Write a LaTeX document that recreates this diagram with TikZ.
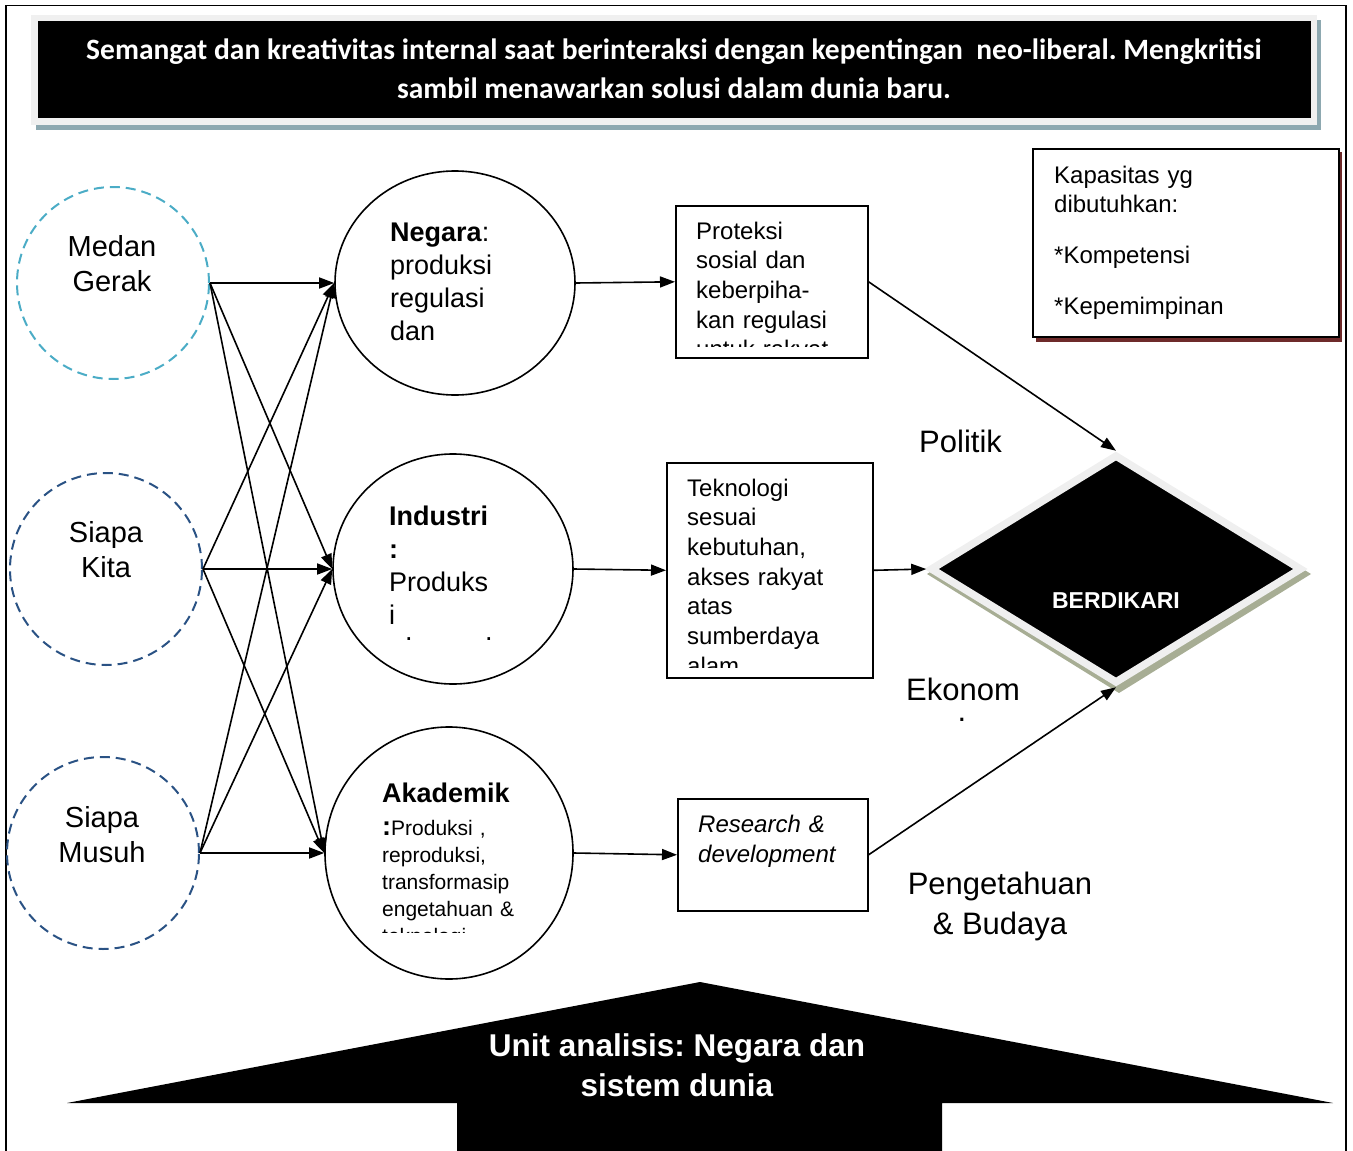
\documentclass[tikz,border=0pt]{standalone}
\usepackage{fontspec}
\setmainfont{Liberation Sans}
\newfontfamily\calibrifont{Carlito}
\usetikzlibrary{arrows.meta,shapes.geometric}
\definecolor{medanblue}{HTML}{4BACC6}
\definecolor{siapablue}{HTML}{2A5284}
\definecolor{bannergray}{HTML}{F0F0F0}
\definecolor{bannershadow}{HTML}{8DA8B0}
\definecolor{kapshadow}{HTML}{6E2A2A}
\definecolor{diagray}{HTML}{EFEFEF}
\definecolor{diashadow}{HTML}{A7AD94}
\newcommand{\fsz}[2]{\fontsize{#1}{#2}\selectfont}
\frenchspacing
\begin{document}
\begin{tikzpicture}[x=1pt,y=-1pt,
  conn/.style={line width=1.6pt, -{Triangle[length=15pt,width=11pt]}},
  dashcirc/.style={circle, dash pattern=on 10pt off 6pt, line width=2pt, minimum size=192pt, inner sep=0pt},
  hub/.style={ellipse, draw, line width=1.6pt, inner sep=0pt},
  boxnode/.style={draw, line width=1.6pt, inner sep=0pt, anchor=north west},
  txt/.style={inner sep=0pt, anchor=base west, align=left},
  ctxt/.style={inner sep=0pt, anchor=base, align=center},
]
\useasboundingbox (0,0) rectangle (1353,1151);
% frame
\draw[line width=1.5pt] (6,1151) -- (6,5.5) -- (1346,5.5) -- (1346,1151);

% banner
\fill[bannershadow] (36,20) rectangle (1321,130);
\fill[bannergray] (31,15) rectangle (1317,125);
\node[fill=black, inner sep=0pt, minimum width=1273pt, minimum height=97pt, anchor=north west] (banner) at (38,21) {};
\node[ctxt, text=white, font=\calibrifont\bfseries\fsz{29.5}{39}] (bannertext) at (674,98)
  {Semangat dan kreativitas internal saat berinteraksi dengan kepentingan \ neo-liberal. Mengkritisi\\sambil menawarkan solusi dalam dunia baru.};

% Kapasitas box
\fill[kapshadow] (1036,152) rectangle (1342,342);
\node[boxnode, fill=white, line width=1.8pt, minimum width=306pt, minimum height=188pt] (kap) at (1032,148) {};
\node[txt, text width=270pt, font=\fsz{24}{29}] (kaptext) at (1054,183)
  {Kapasitas yg\\dibutuhkan:\\[22pt]*Kompetensi\\[22pt]*Kepemimpinan};

% left circles
\node[dashcirc, draw=medanblue] (mg) at (113,283) {};
\node[dashcirc, draw=siapablue] (sk) at (106,569) {};
\node[dashcirc, draw=siapablue] (sm) at (103,853) {};
\node[ctxt, font=\fsz{29}{35}] (mgt) at (112,291) {Medan\\Gerak};
\node[ctxt, font=\fsz{29}{35}] (skt) at (106,577) {Siapa\\Kita};
\node[ctxt, font=\fsz{29}{35}] (smt) at (102,862) {Siapa\\Musuh};

% middle circles
\node[hub, minimum width=240pt, minimum height=224pt] (neg) at (455,283) {};
\node[hub, minimum width=240pt, minimum height=230pt] (ind) at (453,569) {};
\node[hub, minimum width=248pt, minimum height=252pt] (aka) at (449,853) {};

\node[txt, text width=170pt, font=\fsz{27}{33}] (negt) at (390,241)
  {\textbf{Negara}:\\produksi\\regulasi\\dan};
\node[txt, text width=170pt, font=\fsz{27}{33}] (indt) at (389,525)
  {\textbf{Industri}\\\textbf{:}\\Produks\\i};
\node[txt, font=\fsz{27}{33}] (dot1) at (405,640) {.};
\node[txt, font=\fsz{27}{33}] (dot2) at (485,640) {.};
\node[txt, font=\bfseries\fsz{27}{33}] (akat) at (382,802) {Akademik};
\begin{scope}
\clip (330,815) rectangle (570,932);
\node[txt, text width=190pt, font=\fsz{21}{27}] (akab) at (382,835)
  {{\bfseries\fsz{27}{27}:}Produksi ,\\reproduksi,\\transformasip\\engetahuan \&\\teknologi};
\end{scope}

% boxes
\node[boxnode, minimum width=192pt, minimum height=152pt] (prot) at (675,205) {};
\node[boxnode, minimum width=206pt, minimum height=215pt] (tek) at (666,462) {};
\node[boxnode, minimum width=190pt, minimum height=112pt] (rd) at (677,798) {};
\begin{scope}
\clip (678,208) rectangle (864,346);
\node[txt, text width=170pt, font=\fsz{24}{29.7}] (prott) at (696,239)
  {Proteksi\\sosial dan\\keberpiha-\\kan regulasi\\untuk rakyat};
\end{scope}
\begin{scope}
\clip (669,465) rectangle (869,667);
\node[txt, text width=180pt, font=\fsz{24}{29.7}] (tekt) at (687,496)
  {Teknologi\\sesuai\\kebutuhan,\\akses rakyat\\atas\\sumberdaya\\alam};
\end{scope}
\node[txt, text width=170pt, font=\itshape\fsz{24}{30}] (rdt) at (698,832)
  {Research \&\\development};

% diamond
\fill[diashadow] (1119,455) -- (1311,574) -- (1119,693) -- (927,574) -- cycle;
\node[diamond, fill=black, draw=diagray, line width=7.5pt, minimum width=372pt, minimum height=229pt, inner sep=0pt] (berd) at (1116,569) {};
\node[ctxt, text=white, font=\bfseries\fsz{23}{28}] (berdt) at (1116,608) {BERDIKARI};

% side labels
\node[txt, font=\fsz{31}{40}] (pol) at (919,452) {Politik};
\node[txt, font=\fsz{31}{40}] (eko) at (906,700) {Ekonom};
\node[ctxt, font=\fsz{31}{40}] (ekodot) at (962,721) {.};
\node[ctxt, font=\fsz{31}{40}] (pen) at (1000,934) {Pengetahuan\\\& Budaya};

% bottom arrow
\fill[black] (700,982) -- (1333,1103) -- (942,1103) -- (942,1160) -- (457,1160) -- (457,1103) -- (67,1103) -- cycle;
\node[ctxt, text=white, font=\bfseries\fsz{31.5}{40}] (unit) at (677,1096) {Unit analisis: Negara dan\\sistem dunia};

% connectors left -> middle
\foreach \s in {mg,sk,sm}{
  \foreach \t in {neg,ind,aka}{
    \draw[conn] (\s.east) -- (\t.west);
  }
}
% middle -> boxes
\draw[conn] (neg.east) -- (prot.west);
\draw[conn] (ind.east) -- (tek.west);
\draw[conn] (aka.east) -- (rd.west);
% boxes -> diamond
\draw[conn] (prot.east) -- (berd.north);
\draw[conn] (tek.east) -- (berd.west);
\draw[conn] (rd.east) -- (berd.south);
\end{tikzpicture}
\end{document}
